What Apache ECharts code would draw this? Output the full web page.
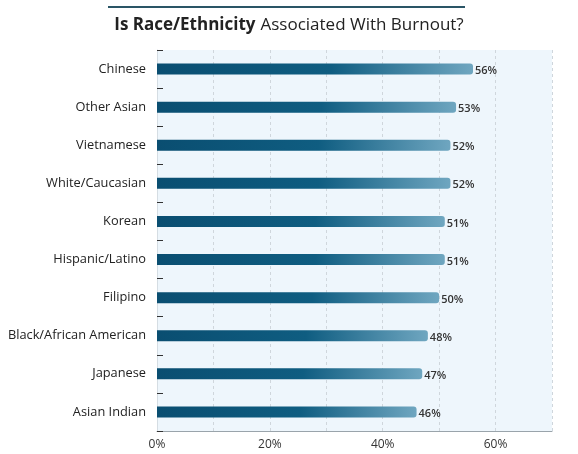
<!DOCTYPE html>
<html>
<head>
<meta charset="utf-8">
<script src="https://cdn.jsdelivr.net/npm/echarts@6/dist/echarts.min.js"></script>
<style>
  html, body { margin: 0; padding: 0; background: #ffffff; }
  #chart { width: 578px; height: 454px; }
</style>
</head>
<body>
<div id="chart"></div>
<script>
// Groups, listed top to bottom
const groups = [
  'Chinese', 'Other Asian', 'Vietnamese', 'White/Caucasian', 'Korean',
  'Hispanic/Latino', 'Filipino', 'Black/African American', 'Japanese', 'Asian Indian'
];
// Share reporting burnout (%)
const burnout = [56, 53, 52, 52, 51, 51, 50, 48, 47, 46];
// Axis ticks (%)
const xTicks = [0, 20, 40, 60];

const chart = echarts.init(document.getElementById('chart'));

const barGradient = new echarts.graphic.LinearGradient(0, 0, 1, 0, [
  { offset: 0, color: '#0a4e71' },
  { offset: 0.55, color: '#0f5d81' },
  { offset: 1, color: '#6fa6c0' }
]);

chart.setOption({
  animation: false,
  title: {
    text: '{b|Is Race/Ethnicity} {r|Associated With Burnout?}',
    left: 'center',
    top: 11,
    textStyle: {
      rich: {
        b: { fontFamily: 'Open Sans', fontSize: 17, fontWeight: 'bold', color: '#222' },
        r: { fontFamily: 'Open Sans', fontSize: 17, fontWeight: 'normal', color: '#222' }
      }
    }
  },
  graphic: [{
    type: 'line',
    shape: { x1: 108, y1: 7, x2: 465, y2: 7 },
    style: { stroke: '#2a5566', lineWidth: 2 }
  }],
  grid: {
    left: 157, right: 26, top: 50, bottom: 23,
    show: true, backgroundColor: '#eef6fc', borderWidth: 0
  },
  xAxis: {
    type: 'value',
    min: 0, max: 70, interval: 10,
    axisLine: { show: true, lineStyle: { color: '#9aa4ab', width: 1 } },
    axisTick: { show: false },
    splitLine: { show: true, lineStyle: { color: '#cfd6dc', type: [3, 3], width: 1 } },
    axisLabel: {
      fontFamily: 'Open Sans', fontSize: 12, color: '#333', margin: 8,
      formatter: v => xTicks.includes(v) ? v + '%' : ''
    }
  },
  yAxis: {
    type: 'category',
    data: groups,
    inverse: true,
    axisLine: { show: true, lineStyle: { color: '#d5dde3' } },
    axisTick: { show: true, inside: true, length: 6, lineStyle: { color: '#333' } },
    axisLabel: { fontFamily: 'Open Sans', fontSize: 12.8, color: '#222', margin: 11 }
  },
  series: [{
    type: 'bar',
    data: burnout,
    barWidth: 11,
    itemStyle: { color: barGradient, borderRadius: [0, 3, 3, 0] },
    label: {
      show: true, position: 'right', distance: 2, offset: [0, 2],
      formatter: p => p.value + '%',
      fontFamily: 'Open Sans', fontSize: 11, fontWeight: 600, color: '#333'
    }
  }]
});
</script>
</body>
</html>
